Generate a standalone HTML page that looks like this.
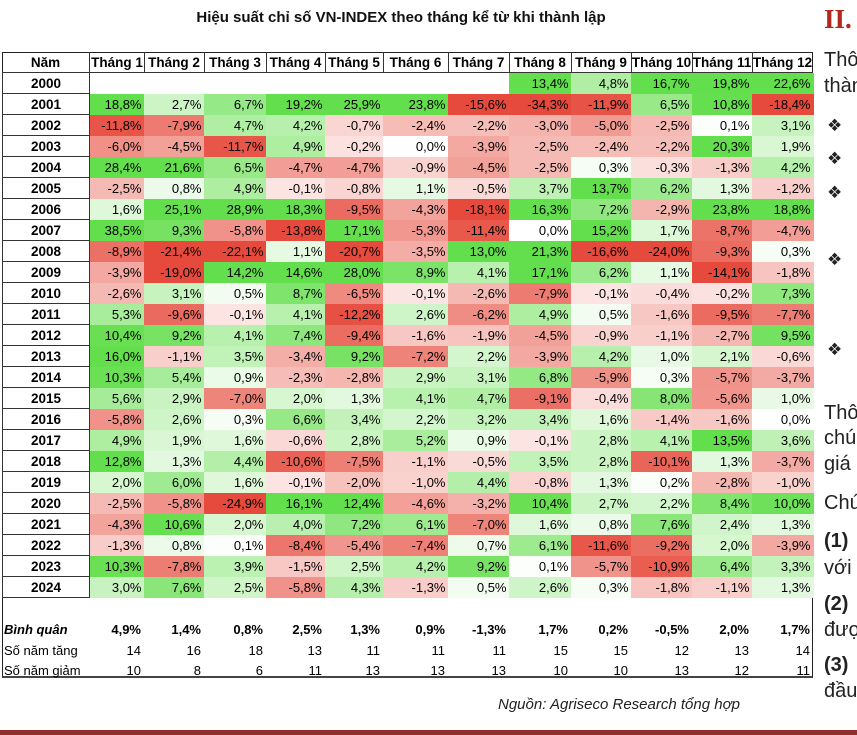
<!DOCTYPE html>
<html><head><meta charset="utf-8">
<style>
body{margin:0;width:857px;height:735px;overflow:hidden;background:#fff;position:relative;font-family:"Liberation Sans","DejaVu Sans",sans-serif;}
#title{position:absolute;left:0;width:802px;top:9px;text-align:center;font-weight:bold;font-size:15px;color:#111;}
#tbl{position:absolute;left:0;top:0;}
.c{position:absolute;box-sizing:border-box;font-size:13px;line-height:21px;color:#000;white-space:nowrap;overflow:hidden;}
.r{text-align:right;padding-right:3px;}
.h{font-weight:bold;text-align:center;border-right:1px solid #333;border-bottom:1px solid #333;font-size:13.5px;}
.y{font-weight:bold;text-align:center;border:1px solid #333;border-top:none;font-size:13.5px;}
#src{position:absolute;left:498px;top:696px;font-style:italic;font-size:15px;color:#222;}
#bar{position:absolute;left:0;top:730px;width:857px;height:5px;background:#8e2f2c;}
.rt{position:absolute;left:824px;font-size:20px;color:#222;white-space:nowrap;}
</style></head><body>
<div id="title">Hiệu suất chỉ số VN-INDEX theo tháng kể từ khi thành lập</div>
<div id="tbl"></div>
<div id="src">Nguồn: Agriseco Research tổng hợp</div>
<div id="bar"></div>
<div class="rt" style="top:4px;font-size:27px;font-weight:bold;color:#b5261e;font-family:'Liberation Serif',serif;">II.</div>
<div class="rt" style="top:49px">Thô</div>
<div class="rt" style="top:75px">thàn</div>
<div class="rt" style="top:116px;left:827px;font-size:17px">❖</div>
<div class="rt" style="top:149px;left:827px;font-size:17px">❖</div>
<div class="rt" style="top:183px;left:827px;font-size:17px">❖</div>
<div class="rt" style="top:250px;left:827px;font-size:17px">❖</div>
<div class="rt" style="top:340px;left:827px;font-size:17px">❖</div>
<div class="rt" style="top:402px">Thô</div>
<div class="rt" style="top:427px">chú</div>
<div class="rt" style="top:453px">giá</div>
<div class="rt" style="top:492px">Chú</div>
<div class="rt" style="top:530px;font-weight:bold">(1)</div>
<div class="rt" style="top:557px">với</div>
<div class="rt" style="top:593px;font-weight:bold">(2)</div>
<div class="rt" style="top:619px">đượ</div>
<div class="rt" style="top:654px;font-weight:bold">(3)</div>
<div class="rt" style="top:680px">đầu</div>
<script>
const months=["Tháng 1","Tháng 2","Tháng 3","Tháng 4","Tháng 5","Tháng 6","Tháng 7","Tháng 8","Tháng 9","Tháng 10","Tháng 11","Tháng 12"];
const years=[2000,2001,2002,2003,2004,2005,2006,2007,2008,2009,2010,2011,2012,2013,2014,2015,2016,2017,2018,2019,2020,2021,2022,2023,2024];
const returns=[
[null,null,null,null,null,null,null,13.4,4.8,16.7,19.8,22.6],
[18.8,2.7,6.7,19.2,25.9,23.8,-15.6,-34.3,-11.9,6.5,10.8,-18.4],
[-11.8,-7.9,4.7,4.2,-0.7,-2.4,-2.2,-3.0,-5.0,-2.5,0.1,3.1],
[-6.0,-4.5,-11.7,4.9,-0.2,0.0,-3.9,-2.5,-2.4,-2.2,20.3,1.9],
[28.4,21.6,6.5,-4.7,-4.7,-0.9,-4.5,-2.5,0.3,-0.3,-1.3,4.2],
[-2.5,0.8,4.9,-0.1,-0.8,1.1,-0.5,3.7,13.7,6.2,1.3,-1.2],
[1.6,25.1,28.9,18.3,-9.5,-4.3,-18.1,16.3,7.2,-2.9,23.8,18.8],
[38.5,9.3,-5.8,-13.8,17.1,-5.3,-11.4,0.0,15.2,1.7,-8.7,-4.7],
[-8.9,-21.4,-22.1,1.1,-20.7,-3.5,13.0,21.3,-16.6,-24.0,-9.3,0.3],
[-3.9,-19.0,14.2,14.6,28.0,8.9,4.1,17.1,6.2,1.1,-14.1,-1.8],
[-2.6,3.1,0.5,8.7,-6.5,-0.1,-2.6,-7.9,-0.1,-0.4,-0.2,7.3],
[5.3,-9.6,-0.1,4.1,-12.2,2.6,-6.2,4.9,0.5,-1.6,-9.5,-7.7],
[10.4,9.2,4.1,7.4,-9.4,-1.6,-1.9,-4.5,-0.9,-1.1,-2.7,9.5],
[16.0,-1.1,3.5,-3.4,9.2,-7.2,2.2,-3.9,4.2,1.0,2.1,-0.6],
[10.3,5.4,0.9,-2.3,-2.8,2.9,3.1,6.8,-5.9,0.3,-5.7,-3.7],
[5.6,2.9,-7.0,2.0,1.3,4.1,4.7,-9.1,-0.4,8.0,-5.6,1.0],
[-5.8,2.6,0.3,6.6,3.4,2.2,3.2,3.4,1.6,-1.4,-1.6,0.0],
[4.9,1.9,1.6,-0.6,2.8,5.2,0.9,-0.1,2.8,4.1,13.5,3.6],
[12.8,1.3,4.4,-10.6,-7.5,-1.1,-0.5,3.5,2.8,-10.1,1.3,-3.7],
[2.0,6.0,1.6,-0.1,-2.0,-1.0,4.4,-0.8,1.3,0.2,-2.8,-1.0],
[-2.5,-5.8,-24.9,16.1,12.4,-4.6,-3.2,10.4,2.7,2.2,8.4,10.0],
[-4.3,10.6,2.0,4.0,7.2,6.1,-7.0,1.6,0.8,7.6,2.4,1.3],
[-1.3,0.8,0.1,-8.4,-5.4,-7.4,0.7,6.1,-11.6,-9.2,2.0,-3.9],
[10.3,-7.8,3.9,-1.5,2.5,4.2,9.2,0.1,-5.7,-10.9,6.4,3.3],
[3.0,7.6,2.5,-5.8,4.3,-1.3,0.5,2.6,0.3,-1.8,-1.1,1.3]];
const averages=[4.9,1.4,0.8,2.5,1.3,0.9,-1.3,1.7,0.2,-0.5,2.0,1.7];
const upYears=[14,16,18,13,11,11,11,15,15,12,13,14];
const downYears=[10,8,6,11,13,13,13,10,10,13,12,11];

const T=document.getElementById('tbl');
const L=2,R=813,TOP=52,HH=21,RH=21,YW=88;
const EDGES=[90,144,204,266,325,383,448,509,571,631,692,752,813];
function colX(i){return EDGES[i];}
function colW(i){return EDGES[i+1]-EDGES[i];}
function rowY(r){return TOP+HH+r*RH;}
function fmt(v){return v.toFixed(1).replace('.',',')+'%';}
function mix(a,b,t){return 'rgb('+a.map((x,k)=>Math.round(x+(b[k]-x)*t)).join(',')+')';}
function color(v){
  const W=[255,255,255];
  if(v>0.05){let t=Math.min(v/11,1);t=Math.pow(t,0.8);return mix(W,[99,222,76],t);}
  if(v<-0.05){let t=Math.min(-v/13,1);t=Math.pow(t,0.75);return mix([252,232,230],[230,74,60],t);}
  return '#fff';
}
function cell(x,y,w,h,cls,txt,bg){
  const d=document.createElement('div');d.className='c '+cls;
  d.style.left=x+'px';d.style.top=y+'px';d.style.width=w+'px';d.style.height=h+'px';
  if(bg)d.style.background=bg;d.textContent=txt;T.appendChild(d);return d;
}
const fr=document.createElement('div');


fr.style.cssText='position:absolute;left:'+L+'px;top:'+TOP+'px;width:'+(R-L)+'px;height:'+(678-TOP)+'px;border:1px solid #222;border-bottom:2px solid #444;box-sizing:border-box;';
T.appendChild(fr);
let h=cell(L,TOP,YW,HH,'h','Năm');


months.forEach((m,i)=>{
  const d=cell(colX(i),TOP,colW(i)+(i===11?0:1),HH,'h',m);
  if(i===11)d.style.borderRight='none';
  
  
});
years.forEach((yr,r)=>{
  const y=rowY(r);
  const d=cell(L,y,YW,RH,'y',String(yr));
  
  
  returns[r].forEach((v,i)=>{
    if(v===null)return;
    const c=cell(colX(i),y,colW(i)+0.5,RH,'r',fmt(v),color(v));
    
    
  });
});
const sy=[619,640,660];
const labels=['Bình quân','Số năm tăng','Số năm giảm'];
const sets=[averages,upYears,downYears];
labels.forEach((lb,k)=>{
  const d=cell(L+2,sy[k],YW,RH,'',lb);
  if(k===0){d.style.fontStyle='italic';d.style.fontWeight='bold';}
  
  
  sets[k].forEach((v,i)=>{
    const c=cell(colX(i),sy[k],colW(i),RH,'r',k===0?fmt(v):String(v));
    if(k===0)c.style.fontWeight='bold';
    
    
  });
});
</script>
</body></html>
